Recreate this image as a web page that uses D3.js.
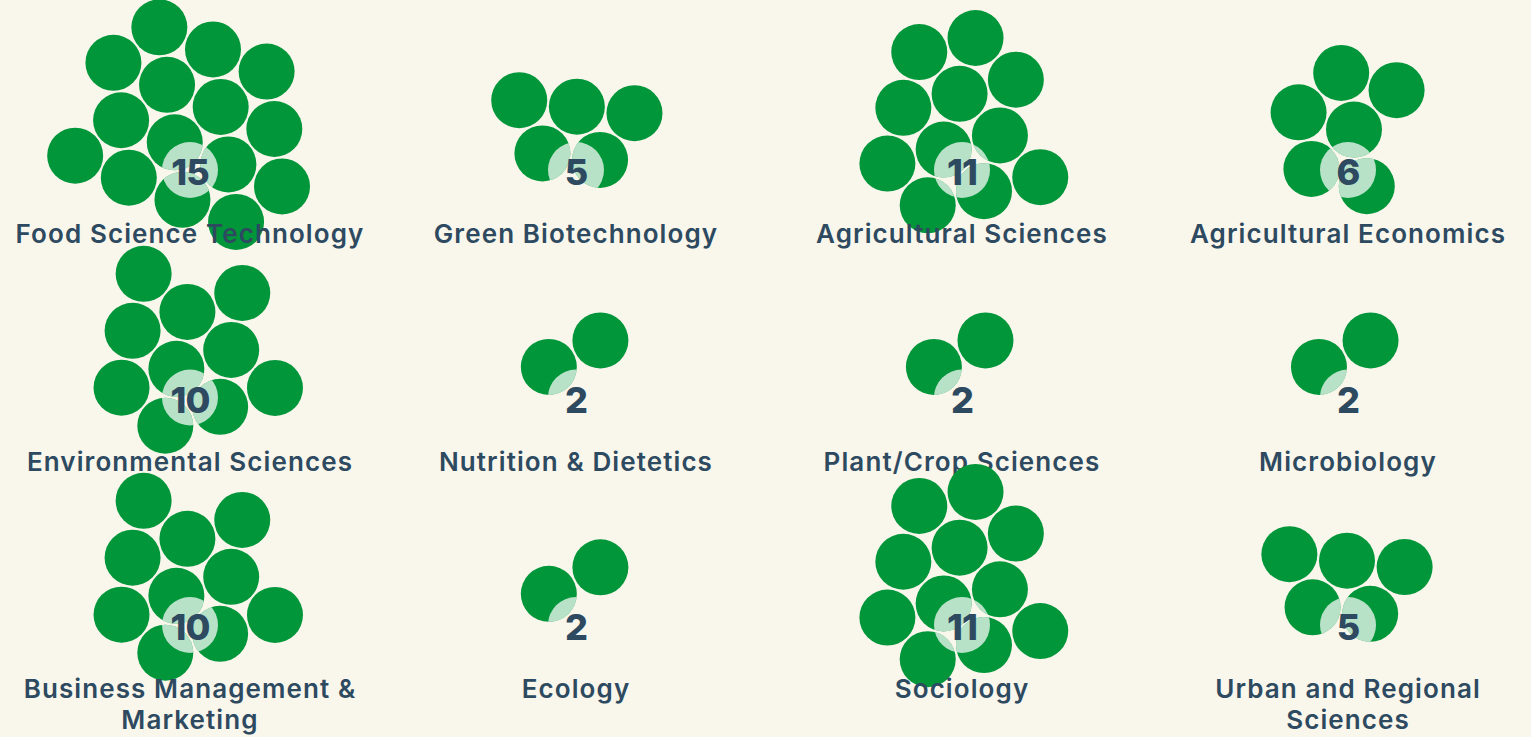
<!DOCTYPE html>
<html><head><meta charset="utf-8">
<script src="https://cdn.jsdelivr.net/npm/d3@7"></script>
<style>
html,body{margin:0;padding:0;background:#f9f6ec;}
svg{display:block;}
</style></head>
<body>
<svg id="chart" width="1531" height="737"></svg>
<script>
const categories = [
  "Food Science Technology", "Green Biotechnology", "Agricultural Sciences", "Agricultural Economics",
  "Environmental Sciences", "Nutrition & Dietetics", "Plant/Crop Sciences", "Microbiology",
  "Business Management & Marketing", "Ecology", "Sociology", "Urban and Regional Sciences"
];
const labelLines = [
  ["Food Science Technology"], ["Green Biotechnology"], ["Agricultural Sciences"], ["Agricultural Economics"],
  ["Environmental Sciences"], ["Nutrition & Dietetics"], ["Plant/Crop Sciences"], ["Microbiology"],
  ["Business Management &", "Marketing"], ["Ecology"], ["Sociology"], ["Urban and Regional", "Sciences"]
];
const counts = [15, 5, 11, 6, 10, 2, 2, 2, 10, 2, 11, 5];

const W = 1531, H = 737;
const svg = d3.select("#chart");
const defs = svg.append("defs");
const ncol = 4, nrow = 3;
const x = d3.scaleBand().domain(d3.range(ncol)).range([-3, 1541]);
const y = d3.scaleBand().domain(d3.range(nrow)).range([59, 59 + 3 * 227.5]);
const r = 28;
const green = "#009639";
const textColor = "#2d4a60";
const font = "Inter, Lato, 'Open Sans', sans-serif";

categories.forEach((cat, i) => {
  const col = i % ncol, row = Math.floor(i / ncol);
  const cx = x(col) + x.bandwidth() / 2;
  const ny = y(row) + 113; // number centre
  const cy = ny - 45;
  const n = counts[i];
  const nodes = d3.range(n).map(() => ({}));
  const sim = d3.forceSimulation(nodes)
    .force("x", d3.forceX(cx).strength(0.08))
    .force("y", d3.forceY(cy).strength(0.08))
    .force("collide", d3.forceCollide(r + 1).iterations(4))
    .stop();
  for (let k = 0; k < 400; k++) sim.tick();

  const clip = defs.append("clipPath").attr("id", "clip" + i);
  clip.selectAll("circle").data(nodes).join("circle")
    .attr("cx", d => d.x).attr("cy", d => d.y).attr("r", r);

  const g = svg.append("g");
  g.selectAll("circle.dot").data(nodes).join("circle")
    .attr("class", "dot")
    .attr("cx", d => d.x).attr("cy", d => d.y).attr("r", r)
    .attr("fill", green);
  g.append("circle").attr("cx", cx).attr("cy", ny - 2).attr("r", r)
    .attr("clip-path", "url(#clip" + i + ")")
    .attr("fill", "#ffffff").attr("fill-opacity", 0.72);
  g.append("text").attr("x", cx).attr("y", ny + 13)
    .attr("text-anchor", "middle")
    .attr("font-family", font)
    .attr("font-weight", 800).attr("font-size", 36)
    .attr("letter-spacing", -1)
    .attr("fill", textColor).text(n);
  const t = g.append("text").attr("text-anchor", "middle")
    .attr("font-family", font)
    .attr("font-weight", 600).attr("font-size", 26)
    .attr("letter-spacing", 1.1)
    .attr("fill", textColor);
  labelLines[i].forEach((ln, j) => {
    t.append("tspan").attr("x", cx).attr("y", ny + 71 + j * 31).text(ln);
  });
});
</script>
</body></html>
